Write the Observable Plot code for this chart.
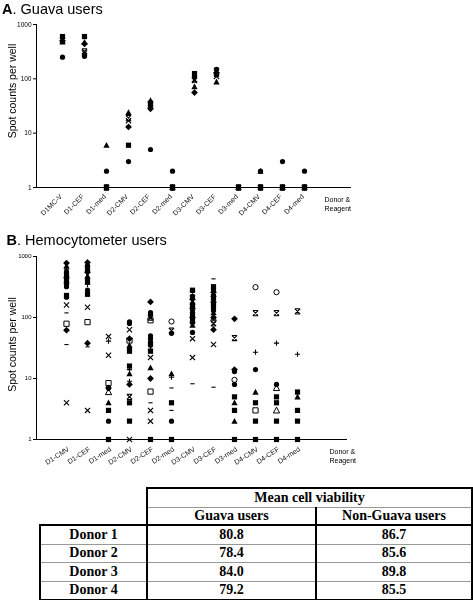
<!DOCTYPE html>
<html><head><meta charset="utf-8">
<script src="https://cdn.jsdelivr.net/npm/d3@7"></script>
<script src="https://cdn.jsdelivr.net/npm/@observablehq/plot@0.6"></script>
<style>
body{margin:0;background:#fff;font-family:Arial,"Liberation Sans",sans-serif;}
#wrap{position:relative;width:473px;height:600px;overflow:hidden;background:#fff;}
.abs{position:absolute;}
svg.abs{will-change:transform;-webkit-font-smoothing:antialiased;}
.title{font-size:14.5px;line-height:15px;color:#000;white-space:nowrap;}
#tbl{border-collapse:collapse;font-family:"Times New Roman","Liberation Serif",serif;font-weight:bold;font-size:14px;color:#000;table-layout:fixed;}
#tbl td{padding:0;text-align:center;line-height:14px;}
</style></head><body><div id="wrap"></div>
<script>
// ---------- categories & ticks ----------
const categoriesA = ["D1MC-V","D1-CEF","D1-med","D2-CMV","D2-CEF","D2-med","D3-CMV","D3-CEF","D3-med","D4-CMV","D4-CEF","D4-med"];
const categoriesB = ["D1-CMV","D1-CEF","D1-med","D2-CMV","D2-CEF","D2-med","D3-CMV","D3-CEF","D3-med","D4-CMV","D4-CEF","D4-med"];
const tickValues = [1, 10, 100, 1000];

// ---------- Panel A (Guava users): one value per category ----------
const aCircle    = [250, 260, 2, 3, 5, 2, 110, 150, 1, 2, 3, 2];
const aSquare    = [600, 600, 1, 6, 33, 1, 125, 120, 1, 1, 1, 1];
const aTriangle  = [480, 470, 6, 24, 40, 1, 72, 88, 1, 2, 1, 1];
const aDiamond   = [500, 440, 1, 13, 28, 1, 56, 130, 1, 1, 1, 1];
const aHourglass = [510, 320, 1, 19, 35, 1, 97, 140, 1, 1, 1, 1];
const aTimes     = [null, 300, null, 17, 33, null, 93, 110, null, null, null, null];

// ---------- Panel B (Hemocytometer users): values per category ----------
const bDiamond = [[780,450,62],[800,550,38],[7],[45,8],[180,10],[],[200,140,100],[260,180,100,63],[95,14],[],[],[]];
const bSquare = [[500,370,230],[600,380,240],[3,1],[28,16,4,2],[38,28,1],[4,1],[280,160,110,85],[320,220,150],[5,3,1],[4,2,1],[5,4,2,1],[6,3,2,1]];
const bTriangle = [[700,400],[750,480],[4],[35,12],[15],[12],[180,90,75],[240,120],[4,2],[6],[],[5]];
const bCircle = [[560,420,320,215],[700,420,280],[7,2],[85,80,30],[120,110,50,45,35],[55,2],[220,150,120,95,57],[290,200,160,130],[13,8],[14],[8],[]];
const bPlus = [[620],[350],[41],[14,9],[30],[10.5],[130],[170],[],[27],[38],[25]];
const bTimes = [[160,4],[147,3],[49,24],[63,1],[22,3,2],[],[45,22],[36],[],[],[],[]];
const bHourglass = [[],[],[],[5],[100],[61],[250],[80],[46],[118],[118],[126]];
const bDash = [[119,36],[33],[],[],[4],[7,3],[8.2],[430,7.2],[],[],[],[]];
const bOpenSquare = [[79],[84],[8.4],[42],[90,6.1],[],[],[],[],[3],[],[]];
const bOpenTriangle = [[],[],[6],[],[],[],[],[],[],[],[7,3],[]];
const bOpenCircle = [[],[],[],[],[],[86],[],[89],[9.5],[314],[260],[]];

// ---------- Table ----------
const tableTitle = "Mean cell viability";
const groupLabels = ["Guava users", "Non-Guava users"];
const donors = ["Donor 1", "Donor 2", "Donor 3", "Donor 4"];
const guavaViability = [80.8, 78.4, 84.0, 79.2];
const nonGuavaViability = [86.7, 85.6, 89.8, 85.5];

// ---------- symbols ----------
function makeSym(kind) {
  return {draw(ctx, size) {
    const r = Math.sqrt(size / Math.PI);
    switch (kind) {
      case "square": ctx.rect(-r, -r, 2*r, 2*r); break;
      case "circle": ctx.moveTo(r, 0); ctx.arc(0, 0, r, 0, 2*Math.PI); break;
      case "diamond": { const d = r*1.3; ctx.moveTo(0,-d); ctx.lineTo(d,0); ctx.lineTo(0,d); ctx.lineTo(-d,0); ctx.closePath(); break; }
      case "triangle": ctx.moveTo(0,-r*1.25); ctx.lineTo(r*1.2,r); ctx.lineTo(-r*1.2,r); ctx.closePath(); break;
      case "times": ctx.moveTo(-r,-r); ctx.lineTo(r,r); ctx.moveTo(r,-r); ctx.lineTo(-r,r); break;
      case "plus": ctx.moveTo(-r,0); ctx.lineTo(r,0); ctx.moveTo(0,-r); ctx.lineTo(0,r); break;
      case "dash": ctx.moveTo(-r*0.8,0); ctx.lineTo(r*0.8,0); break;
      case "hourglass": ctx.moveTo(-r,-r); ctx.lineTo(r,r); ctx.moveTo(r,-r); ctx.lineTo(-r,r);
        ctx.moveTo(-r,-r); ctx.lineTo(r,-r); ctx.moveTo(-r,r); ctx.lineTo(r,r); break;
    }
  }};
}
const filled = k => ({symbol: makeSym(k), fill: "black", stroke: "none"});
const open = k => ({symbol: makeSym(k), fill: "white", stroke: "black", strokeWidth: 1});
const lined = k => ({symbol: makeSym(k), fill: "none", stroke: "black", strokeWidth: 1.1});

const seriesA = [
  [aTimes, lined("times")], [aHourglass, lined("hourglass")], [aDiamond, filled("diamond")],
  [aTriangle, filled("triangle")], [aSquare, filled("square")], [aCircle, filled("circle")]
].map(([vals, st]) => [vals.map((v, i) => ({cat: categoriesA[i], v})).filter(d => d.v != null), st]);

const seriesB = [
  [bOpenSquare, open("square")], [bOpenTriangle, open("triangle")], [bOpenCircle, open("circle")],
  [bDash, lined("dash")], [bTimes, lined("times")], [bHourglass, lined("hourglass")], [bPlus, lined("plus")],
  [bDiamond, filled("diamond")], [bTriangle, filled("triangle")], [bCircle, filled("circle")], [bSquare, filled("square")]
].map(([lists, st]) => [lists.flatMap((vs, i) => vs.map(v => ({cat: categoriesB[i], v}))), st]);

function panel(o) {
  return Plot.plot({
    width: 473, height: o.height,
    marginLeft: 36, marginRight: o.marginRight, marginTop: o.marginTop, marginBottom: o.marginBottom,
    style: {fontFamily: "Arial, 'Liberation Sans', sans-serif", background: "transparent", color: "black"},
    x: {type: "point", domain: o.cats, padding: 0, insetLeft: o.insetLeft, insetRight: o.insetRight},
    y: {type: "log", domain: [1, 1000]},
    marks: [
      Plot.frame({anchor: "left"}),
      Plot.ruleY([1]),
      Plot.axisY({ticks: tickValues, tickFormat: d => String(d), tickSize: 3, tickPadding: 2, fontSize: o.tickFont, label: null}),
      Plot.axisX({tickRotate: o.rotate, tickSize: 0, tickPadding: o.padTick, dx: o.dxTick, fontSize: 7, label: null, fill: "#111"}),
      Plot.text(["Spot counts per well"], {frameAnchor: "left", rotate: -90, dx: -24, dy: o.labelDy, fontSize: 10.5, textAnchor: "middle", lineAnchor: "middle"}),
      Plot.text(["Donor &\nReagent"], {frameAnchor: "bottom-right", textAnchor: "start", lineAnchor: "top", dx: o.drDx, dy: 8, fontSize: 7, lineHeight: 1.3}),
      ...o.series.map(([data, st]) => Plot.dot(data, {x: "cat", y: "v", r: 2.6, ...st}))
    ]
  });
}

const wrap = document.getElementById("wrap");
const svgA = panel({cats: categoriesA, series: seriesA, height: 225, marginTop: 24, marginBottom: 38, marginRight: 122,
  insetLeft: 23.5, insetRight: 45, rotate: -45, padTick: 8, dxTick: -1.5, tickFont: 6.5, labelDy: -15, drDx: -27});
svgA.classList.add("abs"); svgA.style.left = "0px"; svgA.style.top = "0px";
wrap.appendChild(svgA);

const svgB = panel({cats: categoriesB, series: seriesB, height: 252, marginTop: 28, marginBottom: 41, marginRight: 126,
  insetLeft: 24.5, insetRight: 44.7, rotate: -33, padTick: 9, dxTick: 2, tickFont: 6, labelDy: -3.5, drDx: -18});
svgB.classList.add("abs"); svgB.style.left = "0px"; svgB.style.top = "228px";
wrap.appendChild(svgB);

const tA = document.createElement("div");
tA.className = "abs title"; tA.style.left = "2px"; tA.style.top = "2px";
tA.innerHTML = "<b>A</b>. Guava users";
wrap.appendChild(tA);
const tB = document.createElement("div");
tB.className = "abs title"; tB.style.left = "6.5px"; tB.style.top = "232.5px";
tB.innerHTML = "<b>B</b>. Hemocytometer users";
wrap.appendChild(tB);

// table
const thick = "2px solid #000", thin = "1px solid #999";
const tbl = document.createElement("table");
tbl.id = "tbl"; tbl.className = "abs"; tbl.style.left = "39px"; tbl.style.top = "487px";
const cg = document.createElement("colgroup");
[107, 169, 156].forEach(w => { const c = document.createElement("col"); c.style.width = w + "px"; cg.appendChild(c); });
tbl.appendChild(cg);
function td(tr, text, css, colspan) {
  const c = document.createElement("td"); c.textContent = text;
  if (colspan) c.colSpan = colspan;
  Object.assign(c.style, css); tr.appendChild(c); return c;
}
let tr = document.createElement("tr");
td(tr, "", {border: "none", height: "18px"});
td(tr, tableTitle, {borderTop: thick, borderLeft: thick, borderRight: thick, borderBottom: thin, height: "18px"}, 2);
tbl.appendChild(tr);
tr = document.createElement("tr");
td(tr, "", {border: "none", height: "16px"});
td(tr, groupLabels[0], {borderLeft: thick, borderRight: thick, height: "16px"});
td(tr, groupLabels[1], {borderRight: thick, height: "16px"});
tbl.appendChild(tr);
donors.forEach((d, i) => {
  const r = document.createElement("tr");
  const top = i === 0 ? thick : thin, bottom = i === donors.length - 1 ? thick : thin;
  td(r, d, {borderLeft: thick, borderRight: thick, borderTop: top, borderBottom: bottom, height: "17.5px"});
  td(r, guavaViability[i].toFixed(1), {borderRight: thick, borderTop: top, borderBottom: bottom});
  td(r, nonGuavaViability[i].toFixed(1), {borderRight: thick, borderTop: top, borderBottom: bottom});
  tbl.appendChild(r);
});
wrap.appendChild(tbl);
</script>
</body></html>
